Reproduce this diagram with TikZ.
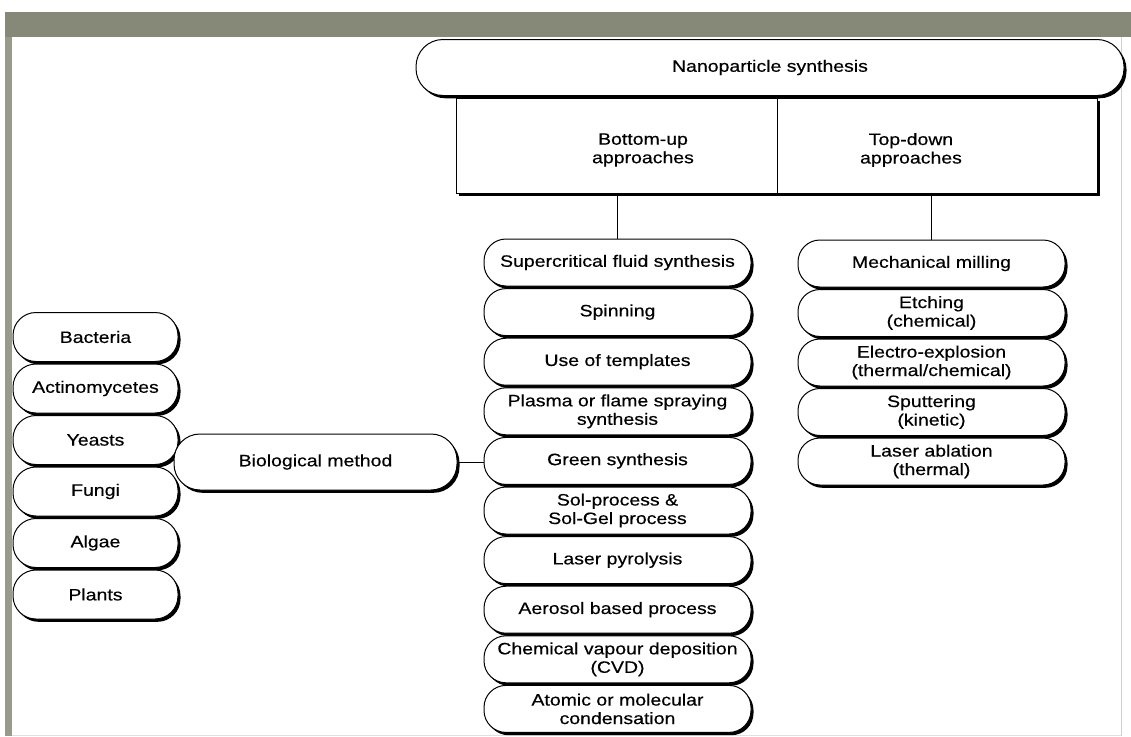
\documentclass[tikz,border=0pt]{standalone}
\usepackage{fontspec}
\setmainfont{Liberation Sans}[FakeStretch=1.18, FakeBold=0.4]
\usetikzlibrary{shadows}
\definecolor{bandgray}{RGB}{134,137,119}
\tikzset{
  shape base/.style={draw=black, line width=1pt, fill=white,
    drop shadow={shadow xshift=2.5pt, shadow yshift=-2.8pt, fill=black, opacity=1},
    align=center, inner sep=0pt, font=\fontsize{16.5}{18.5}\selectfont},
  midpill/.style={shape base, rounded corners=22pt, minimum width=267pt, minimum height=47pt},
  rightpill/.style={shape base, rounded corners=22pt, minimum width=267pt, minimum height=47pt},
  leftpill/.style={shape base, rounded corners=23pt, minimum width=165pt, minimum height=49pt},
  biopill/.style={shape base, rounded corners=26pt, minimum width=283pt, minimum height=56pt},
  toppill/.style={shape base, rounded corners=27pt, minimum width=708pt, minimum height=56pt},
  halfbox/.style={shape base, minimum height=95pt},
  label text/.style={align=center, inner sep=0pt, font=\fontsize{16.5}{18.5}\selectfont},
  conn/.style={draw=black, line width=0.9pt}
}
\begin{document}
\begin{tikzpicture}[x=1pt,y=-1pt]
\useasboundingbox (0,0) rectangle (1131,736);
\fill[white] (0,0) rectangle (1131,736);
\fill[bandgray] (5,12) rectangle (1131,37);
\fill[bandgray!85] (5,37) rectangle (12,736);
\draw[black!18, line width=1pt] (1121,37) -- (1121,736);
\draw[black!12, line width=1pt] (12,735) -- (1121,735);

% approach boxes
\node[halfbox, minimum width=321pt] (buBox) at (616.5,145.5) {};
\node[halfbox, minimum width=320pt] (tdBox) at (937,145.5) {};
\node[label text] (bu) at (643,150) {Bottom-up\\approaches};
\node[label text] (td) at (911,150) {Top-down\\approaches};

% top node
\node[toppill] (top) at (770,67.5) {Nanoparticle synthesis};

% bottom-up column
\node[midpill] (sfs) at (617.5,262.5) {Supercritical fluid synthesis};
\node[midpill] (spin) at (617.5,312.1) {Spinning};
\node[midpill] (tmpl) at (617.5,361.7) {Use of templates};
\node[midpill] (plasma) at (617.5,411.3) {Plasma or flame spraying\\synthesis};
\node[midpill] (green) at (617.5,460.9) {Green synthesis};
\node[midpill] (sol) at (617.5,510.5) {Sol-process \&\\Sol-Gel process};
\node[midpill] (lpyr) at (617.5,560.1) {Laser pyrolysis};
\node[midpill] (aero) at (617.5,609.7) {Aerosol based process};
\node[midpill] (cvd) at (617.5,659.3) {Chemical vapour deposition\\(CVD)};
\node[midpill] (atom) at (617.5,708.9) {Atomic or molecular\\condensation};

% top-down column
\node[rightpill] (mill) at (931.5,263.5) {Mechanical milling};
\node[rightpill] (etch) at (931.5,313) {Etching\\(chemical)};
\node[rightpill] (elex) at (931.5,362.5) {Electro-explosion\\(thermal/chemical)};
\node[rightpill] (sput) at (931.5,412) {Sputtering\\(kinetic)};
\node[rightpill] (labl) at (931.5,461.5) {Laser ablation\\(thermal)};

% biological column
\node[leftpill] (bact) at (95.5,337) {Bacteria};
\node[leftpill] (actino) at (95.5,388.5) {Actinomycetes};
\node[leftpill] (yeast) at (95.5,440) {Yeasts};
\node[leftpill] (fungi) at (95.5,491.5) {Fungi};
\node[leftpill] (algae) at (95.5,543) {Algae};
\node[leftpill] (plants) at (95.5,594.5) {Plants};
\node[biopill] (bio) at (315.5,462) {Biological method};

% connectors
\draw[conn] (buBox.north east) -- (buBox.south east);
\draw[conn] (buBox.south -| sfs.north) -- (sfs.north);
\draw[conn] (tdBox.south -| mill.north) -- (mill.north);
\draw[conn] (bio.east) -- (bio.east -| green.west);
\end{tikzpicture}
\end{document}
